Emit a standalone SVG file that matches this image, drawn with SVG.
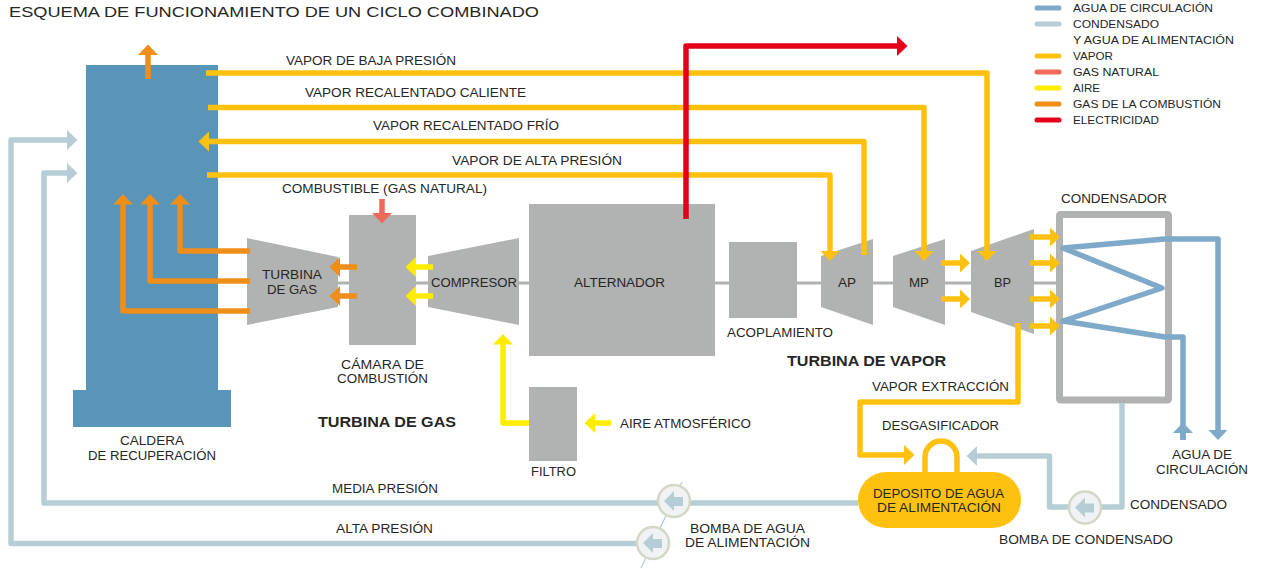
<svg xmlns="http://www.w3.org/2000/svg" width="1265" height="569" viewBox="0 0 1265 569">
<style>
text{font-family:"Liberation Sans",Arial,sans-serif;font-size:12.5px;fill:#262625}
.t{font-size:15px}.h{font-size:14px;font-weight:bold}.l{font-size:11.5px}
.m{fill:#b0b3b1}
.c{fill:none;stroke-width:5.5;stroke-linejoin:round}
.vap{stroke:#fec110}.ora{stroke:#f08e1a}.air{stroke:#ffec00}.con{stroke:#b6cdd5}.blu{stroke:#7fa9c8}.red{stroke:#e3001b}.gas{stroke:#ef6a5a}
.vapm{marker-end:url(#aVap)}.oram{marker-end:url(#aOra)}.airm{marker-end:url(#aAir)}.conm{marker-end:url(#aCon)}.blum{marker-end:url(#aBlu)}.redm{marker-end:url(#aRed)}.gasm{marker-end:url(#aGas)}
.lg{fill:none;stroke-width:5;stroke-linecap:round}
.pump{fill:#f1f2f3;stroke:#d3d8c6;stroke-width:2.5}
.pa{fill:#b6cdd5}
</style>
<defs>
<marker id="aVap" markerUnits="userSpaceOnUse" markerWidth="11" markerHeight="20" refX="0.5" refY="10" orient="auto"><path d="M0 0L10.5 10L0 20Z" fill="#fec110"/></marker>
<marker id="aOra" markerUnits="userSpaceOnUse" markerWidth="11" markerHeight="20" refX="0.5" refY="10" orient="auto"><path d="M0 0L10.5 10L0 20Z" fill="#f08e1a"/></marker>
<marker id="aAir" markerUnits="userSpaceOnUse" markerWidth="11" markerHeight="20" refX="0.5" refY="10" orient="auto"><path d="M0 0L10.5 10L0 20Z" fill="#ffec00"/></marker>
<marker id="aCon" markerUnits="userSpaceOnUse" markerWidth="11" markerHeight="20" refX="0.5" refY="10" orient="auto"><path d="M0 0L10.5 10L0 20Z" fill="#b6cdd5"/></marker>
<marker id="aBlu" markerUnits="userSpaceOnUse" markerWidth="11" markerHeight="20" refX="0.5" refY="10" orient="auto"><path d="M0 0L10.5 10L0 20Z" fill="#7fa9c8"/></marker>
<marker id="aRed" markerUnits="userSpaceOnUse" markerWidth="11" markerHeight="20" refX="0.5" refY="10" orient="auto"><path d="M0 0L10.5 10L0 20Z" fill="#e3001b"/></marker>
<marker id="aGas" markerUnits="userSpaceOnUse" markerWidth="11" markerHeight="20" refX="0.5" refY="10" orient="auto"><path d="M0 0L10.5 10L0 20Z" fill="#ef6a5a"/></marker>
</defs>
<text class="t" x="9" y="17" textLength="530" lengthAdjust="spacingAndGlyphs">ESQUEMA DE FUNCIONAMIENTO DE UN CICLO COMBINADO</text>
<g id="legend">
<path class="lg blu" d="M1037 8H1059"/><text class="l" x="1073" y="12" textLength="140" lengthAdjust="spacingAndGlyphs">AGUA DE CIRCULACIÓN</text>
<path class="lg con" d="M1037 24H1059"/><text class="l" x="1073" y="28" textLength="86" lengthAdjust="spacingAndGlyphs">CONDENSADO</text>
<text class="l" x="1073" y="44" textLength="161" lengthAdjust="spacingAndGlyphs">Y AGUA DE ALIMENTACIÓN</text>
<path class="lg vap" d="M1037 56H1059"/><text class="l" x="1073" y="60" textLength="40" lengthAdjust="spacingAndGlyphs">VAPOR</text>
<path class="lg gas" d="M1037 72H1059"/><text class="l" x="1073" y="76" textLength="86" lengthAdjust="spacingAndGlyphs">GAS NATURAL</text>
<path class="lg air" d="M1037 88H1059"/><text class="l" x="1073" y="92" textLength="27" lengthAdjust="spacingAndGlyphs">AIRE</text>
<path class="lg ora" d="M1037 104H1059"/><text class="l" x="1073" y="108" textLength="148" lengthAdjust="spacingAndGlyphs">GAS DE LA COMBUSTIÓN</text>
<path class="lg red" d="M1037 120H1059"/><text class="l" x="1073" y="124" textLength="86" lengthAdjust="spacingAndGlyphs">ELECTRICIDAD</text>
</g>
<path id="shaft" d="M338 283H1057" stroke="#b0b3b1" stroke-width="3" fill="none"/>
<g id="caldera">
<rect x="86" y="65" width="132" height="330" fill="#5895b9"/><rect x="73" y="390" width="158" height="37" fill="#5895b9"/>
<text x="120" y="445" textLength="64" lengthAdjust="spacingAndGlyphs">CALDERA</text>
<text x="88" y="459.500" textLength="128" lengthAdjust="spacingAndGlyphs">DE RECUPERACIÓN</text>
</g>
<g id="turbina-gas"><path class="m" d="M247 238L338 257V307L247 325Z"/>
<text x="262" y="279" textLength="60" lengthAdjust="spacingAndGlyphs">TURBINA</text><text x="267" y="294" textLength="50" lengthAdjust="spacingAndGlyphs">DE GAS</text></g>
<g id="camara"><rect class="m" x="349" y="215" width="67" height="130"/>
<text x="341" y="369" textLength="83" lengthAdjust="spacingAndGlyphs">CÁMARA DE</text><text x="337" y="383" textLength="91" lengthAdjust="spacingAndGlyphs">COMBUSTIÓN</text></g>
<g id="compresor"><path class="m" d="M428 256L519 238V325L428 307Z"/>
<text x="431" y="287" textLength="86" lengthAdjust="spacingAndGlyphs">COMPRESOR</text></g>
<g id="alternador"><rect class="m" x="529" y="204" width="186" height="152"/>
<text x="574" y="287" textLength="91" lengthAdjust="spacingAndGlyphs">ALTERNADOR</text></g>
<g id="acoplamiento"><rect class="m" x="729" y="242" width="68" height="76"/>
<text x="727" y="337" textLength="106" lengthAdjust="spacingAndGlyphs">ACOPLAMIENTO</text></g>
<g id="ap"><path class="m" d="M821 256L873 239V325L821 307Z"/><text x="838" y="287" textLength="18" lengthAdjust="spacingAndGlyphs">AP</text></g>
<g id="mp"><path class="m" d="M893 256L945 239V325L893 307Z"/><text x="909" y="287" textLength="20" lengthAdjust="spacingAndGlyphs">MP</text></g>
<g id="bp"><path class="m" d="M971 251L1034 229V334L971 312Z"/><text x="994" y="287" textLength="17" lengthAdjust="spacingAndGlyphs">BP</text></g>
<g id="condensador"><rect x="1059.500" y="214.500" width="109" height="185.500" rx="1" fill="#fff" stroke="#b0b3b1" stroke-width="7"/>
<text x="1061" y="203" textLength="106" lengthAdjust="spacingAndGlyphs">CONDENSADOR</text></g>
<g id="filtro"><rect class="m" x="529" y="387" width="48" height="74"/><text x="531" y="476" textLength="45" lengthAdjust="spacingAndGlyphs">FILTRO</text></g>
<g id="deposito">
<path d="M925 473V457A16 16 0 0 1 957 457V473" fill="none" stroke="#fec110" stroke-width="5.500"/>
<rect x="858" y="472" width="163" height="56" rx="28" fill="#fec110"/>
<text x="873" y="498" textLength="131" lengthAdjust="spacingAndGlyphs">DEPOSITO DE AGUA</text>
<text x="877" y="512" textLength="124" lengthAdjust="spacingAndGlyphs">DE ALIMENTACIÓN</text>
</g>
<g id="connectors">
<path class="c ora oram" d="M148 79V54.500"/>
<path class="c vap vapm" d="M206 73H987V251"/>
<path class="c vap vapm" d="M208 107.500H924V251"/>
<path class="c vap vapm" d="M864 255V141.500H208.500"/>
<path class="c vap vapm" d="M207 175H830V251"/>
<path class="c red redm" d="M686 219V46H897.500"/>
<path class="c ora oram" d="M250 251H180V204"/>
<path class="c ora oram" d="M250 281H150V204"/>
<path class="c ora oram" d="M250 311H123V204"/>
<path class="c ora oram" d="M357 267H339.500"/>
<path class="c ora oram" d="M357 296H339.500"/>
<path class="c air airm" d="M433 267H415.500"/>
<path class="c air airm" d="M433 296H415.500"/>
<path class="c gas gasm" d="M382 199V213.500"/>
<path class="c air airm" d="M529 423H503V344"/>
<path class="c air airm" d="M611 423H594.500"/>
<path class="c vap vapm" d="M941 263H960"/>
<path class="c vap vapm" d="M941 299H960"/>
<path class="c vap vapm" d="M1030 237H1050"/>
<path class="c vap vapm" d="M1030 263H1050"/>
<path class="c vap vapm" d="M1030 299H1050"/>
<path class="c vap vapm" d="M1030 326H1050"/>
<path class="c vap vapm" d="M1018 323V402H860V455H904.500"/>
<path class="c blu blum" d="M1183 440V432L1183 337H1165L1063 321L1162 288L1063 248L1165 239H1218V430"/>
<path class="c blu blum" d="M1183 440V432.500"/>
<path class="c con conm" d="M1122 403V507H1049.500V456H976.500"/>
<path class="c con conm" d="M858 503H44V173H67.500"/>
<path class="c con conm" d="M653 543.500H11V140H67.500"/>
<path d="M682 482L641 568" stroke="#b6cdd5" stroke-width="1.300" fill="none"/>
</g>
<g id="bomba-alimentacion-media"><circle class="pump" cx="674" cy="501" r="16"/><path class="pa" d="M664 501L674 491V497H683V506H674V511Z"/></g>
<g id="bomba-alimentacion-alta"><circle class="pump" cx="653" cy="543" r="16"/><path class="pa" d="M643 543L653 533V539H662V548H653V553Z"/></g>
<g id="bomba-condensado"><circle class="pump" cx="1085" cy="507.500" r="16"/><path class="pa" d="M1075 507.500L1085 497.500V503.500H1094V512.500H1085V517.500Z"/></g>
<g id="labels">
<text x="286" y="65" textLength="170" lengthAdjust="spacingAndGlyphs">VAPOR DE BAJA PRESIÓN</text>
<text x="305" y="97" textLength="221" lengthAdjust="spacingAndGlyphs">VAPOR RECALENTADO CALIENTE</text>
<text x="373" y="130" textLength="186" lengthAdjust="spacingAndGlyphs">VAPOR RECALENTADO FRÍO</text>
<text x="452" y="165" textLength="170" lengthAdjust="spacingAndGlyphs">VAPOR DE ALTA PRESIÓN</text>
<text x="282" y="193" textLength="205" lengthAdjust="spacingAndGlyphs">COMBUSTIBLE (GAS NATURAL)</text>
<text class="h" x="787" y="366" textLength="159" lengthAdjust="spacingAndGlyphs">TURBINA DE VAPOR</text>
<text class="h" x="318" y="427" textLength="138" lengthAdjust="spacingAndGlyphs">TURBINA DE GAS</text>
<text x="872" y="391" textLength="137" lengthAdjust="spacingAndGlyphs">VAPOR EXTRACCIÓN</text>
<text x="882" y="430" textLength="117" lengthAdjust="spacingAndGlyphs">DESGASIFICADOR</text>
<text x="620" y="428" textLength="131" lengthAdjust="spacingAndGlyphs">AIRE ATMOSFÉRICO</text>
<text x="1172" y="459" textLength="60" lengthAdjust="spacingAndGlyphs">AGUA DE</text>
<text x="1156" y="474" textLength="92" lengthAdjust="spacingAndGlyphs">CIRCULACIÓN</text>
<text x="1130" y="509" textLength="97" lengthAdjust="spacingAndGlyphs">CONDENSADO</text>
<text x="999" y="544" textLength="174" lengthAdjust="spacingAndGlyphs">BOMBA DE CONDENSADO</text>
<text x="690" y="533" textLength="115" lengthAdjust="spacingAndGlyphs">BOMBA DE AGUA</text>
<text x="685" y="547" textLength="125" lengthAdjust="spacingAndGlyphs">DE ALIMENTACIÓN</text>
<text x="332" y="493" textLength="106" lengthAdjust="spacingAndGlyphs">MEDIA PRESIÓN</text>
<text x="336" y="533" textLength="97" lengthAdjust="spacingAndGlyphs">ALTA PRESIÓN</text>
</g>
</svg>
